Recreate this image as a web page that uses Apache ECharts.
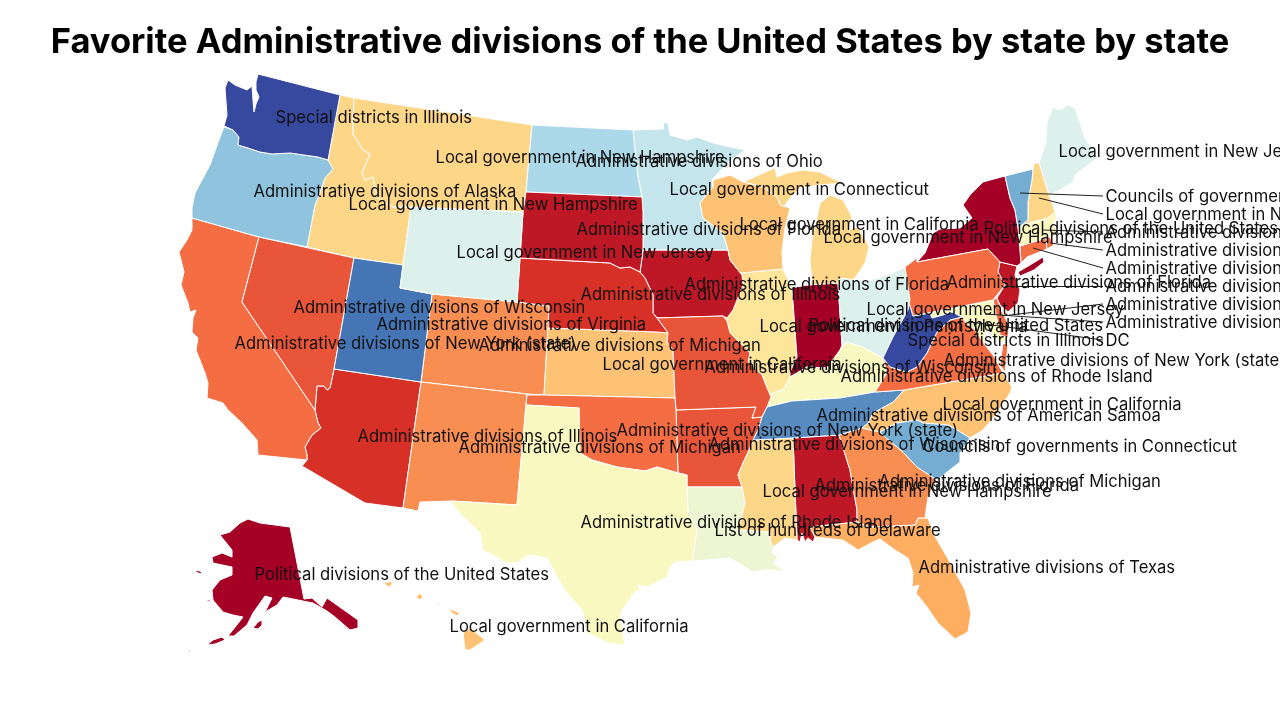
<!DOCTYPE html>
<html>
<head>
<meta charset="utf-8">
<title>Favorite Administrative divisions</title>
<script src="https://cdn.jsdelivr.net/npm/echarts@6/dist/echarts.min.js"></script>
<style>
  html, body { margin: 0; background: #fff; }
  #chart { width: 1280px; height: 720px; }
</style>
</head>
<body>
<div id="chart"></div>
<script>
const states = ['AL','AK','AZ','AR','CA','CO','CT','DE','DC','FL','GA','HI','ID','IL','IN','IA','KS','KY','LA','ME','MD','MA','MI','MN','MS','MO','MT','NE','NV','NH','NJ','NM','NY','NC','ND','OH','OK','OR','PA','RI','SC','SD','TN','TX','UT','VT','VA','WA','WV','WI','WY'];

// position on the red -> yellow -> blue scale, read from each state's fill
const stateValues = [0.5,0,1,1.6,2,2.5,2,2,5,3,2.5,3.4,3.8,4.2,0,0.5,3.4,5,5.4,6,5,5,3.8,6.5,3.8,1.6,3.8,1,1.6,3.8,0.5,2.5,0,3.4,7,6,2,7.5,2,2,8,0.5,8.6,5,9,8,2,9.7,9.7,3.4,6];

const favorites = [
  'Administrative divisions of Florida','Political divisions of the United States','Administrative divisions of Illinois',
  'Administrative divisions of Wisconsin','Administrative divisions of New York (state)','Administrative divisions of Michigan',
  'Administrative divisions of New York (state)','Administrative divisions of Texas','DC','Administrative divisions of Texas',
  'Administrative divisions of Michigan','Local government in California','Local government in New Hampshire',
  'Local government in Pennsylvania','Political divisions of the United States','Administrative divisions of Florida',
  'Local government in California','Administrative divisions of Rhode Island','List of hundreds of Delaware',
  'Local government in New Jersey','Administrative divisions of Florida','Administrative divisions of Illinois',
  'Local government in New Hampshire','Local government in Connecticut','Local government in New Hampshire',
  'Administrative divisions of Wisconsin','Local government in New Hampshire','Administrative divisions of Illinois',
  'Administrative divisions of Wisconsin','Local government in New Hampshire','Administrative divisions of Wisconsin',
  'Administrative divisions of Michigan','Political divisions of the United States','Local government in California',
  'Administrative divisions of Ohio','Local government in New Jersey','Administrative divisions of New York (state)',
  'Administrative divisions of Alaska','Administrative divisions of Florida','Administrative divisions of Michigan',
  'Councils of governments in Connecticut','Administrative divisions of Florida','Administrative divisions of American Samoa',
  'Administrative divisions of Rhode Island','Administrative divisions of Virginia','Councils of governments in Connecticut',
  'Administrative divisions of New York (state)','Special districts in Illinois','Special districts in Illinois',
  'Local government in California','Local government in New Jersey'
];

const titleText = 'Favorite Administrative divisions of the United States by state by state';
const scaleColors = ['#a50026','#d73027','#f46d43','#fdae61','#fee090','#f9f8c0','#dcf0ec','#abd9e9','#74add1','#4575b4','#313695'];

// state outlines in map units, plus where each name is anchored and where a leader starts
const shapes = {
  WA: { at: [275,117], rings: [[[258,74],[340,95],[328,160],[318,157],[290,153],[272,154],[260,152],[248,148],[238,145],[239,137],[233,130],[224,126],[227,115],[225,88],[228,80],[235,85],[247,90],[252,86],[253,100],[254,112],[256,104],[259,97],[256,90],[256,82]]] },
  OR: { at: [253,191], rings: [[[224,127],[233,130],[239,137],[238,145],[248,148],[260,152],[272,154],[290,153],[318,157],[328,160],[333,169],[325,178],[318,198],[315,205],[307,247],[259,237],[192,218],[192,208],[195,193],[210,165],[220,137]]] },
  ID: { at: [348,204], rings: [[[340,95],[354,98],[353,123],[353,134],[363,150],[370,154],[362,173],[365,180],[373,177],[377,197],[393,207],[411,207],[403,265],[354,258],[307,247],[315,205],[318,198],[325,178],[333,169],[328,160]]] },
  MT: { at: [435,157], rings: [[[354,98],[532,125],[526,192],[523,212],[411,207],[393,207],[377,197],[373,177],[365,180],[362,173],[370,154],[363,150],[353,134],[353,123]]] },
  WY: { at: [456,252], rings: [[[411,207],[523,212],[520,258],[517,302],[432,294],[400,288],[403,265]]] },
  UT: { at: [376,324], rings: [[[354,258],[403,265],[400,288],[432,294],[421,382],[334,369]]] },
  NV: { at: [293,307], rings: [[[259,237],[354,258],[334,369],[330,388],[327,390],[324,386],[317,386],[315,410],[242,302]]] },
  CA: { at: [234,343], rings: [[[192,218],[259,237],[242,302],[315,410],[318,423],[321,428],[312,435],[305,447],[307,455],[307,460],[258,455],[257,440],[242,423],[228,410],[223,403],[207,398],[208,383],[205,373],[196,350],[198,338],[192,332],[193,318],[196,310],[190,312],[188,303],[181,285],[184,272],[179,252],[187,240],[192,230]]] },
  AZ: { at: [357,436], rings: [[[334,369],[421,382],[403,508],[365,503],[302,466],[307,460],[307,455],[305,447],[312,435],[321,428],[318,423],[315,410],[317,386],[324,386],[327,390],[330,388]]] },
  NM: { at: [458,447], rings: [[[421,382],[527,394],[526,405],[517,505],[452,501],[420,502],[418,511],[403,508]]] },
  CO: { at: [478,345], rings: [[[432,294],[517,302],[549,306],[548,328],[544,395],[527,394],[421,382]]] },
  KS: { at: [602,364], rings: [[[548,328],[657,332],[668,333],[667,342],[673,350],[675,398],[544,395]]] },
  NE: { at: [580,294], rings: [[[520,258],[610,263],[620,268],[630,267],[640,272],[645,278],[653,295],[653,313],[657,318],[668,333],[657,332],[548,328],[549,306],[517,302]]] },
  SD: { at: [576,229], rings: [[[526,192],[642,197],[643,212],[643,248],[642,258],[640,272],[630,267],[620,268],[610,263],[520,258],[523,212]]] },
  ND: { at: [575,161], rings: [[[532,125],[633,130],[638,177],[642,197],[526,192]]] },
  MN: { at: [669,189], rings: [[[633,130],[663,129],[664,122],[668,123],[670,135],[687,140],[697,137],[713,143],[730,147],[745,150],[727,163],[712,180],[713,187],[700,203],[703,218],[723,233],[728,250],[643,250],[643,212],[642,197],[638,177]]] },
  IA: { at: [684,284], rings: [[[643,250],[728,250],[730,260],[742,275],[743,285],[735,305],[733,310],[727,318],[723,316],[657,318],[653,313],[653,295],[645,278],[640,272],[642,258]]] },
  MO: { at: [704,367], rings: [[[657,318],[723,316],[727,321],[730,333],[750,353],[748,362],[762,375],[767,388],[771,397],[767,407],[762,417],[752,418],[756,407],[676,410],[675,398],[673,350],[667,342],[668,333]]] },
  AR: { at: [708,444], rings: [[[676,410],[756,407],[752,418],[762,417],[758,430],[750,448],[743,463],[738,475],[742,487],[687,487],[687,475],[678,473]]] },
  LA: { at: [714,530], rings: [[[687,487],[742,487],[745,503],[738,530],[770,532],[770,540],[774,547],[772,553],[778,557],[773,563],[785,572],[773,570],[765,570],[753,572],[745,567],[730,558],[707,560],[692,561],[695,543],[697,530],[688,513]]] },
  OK: { at: [616,430], rings: [[[527,395],[544,395],[675,398],[676,410],[678,473],[657,467],[645,471],[617,467],[592,460],[580,453],[579,408],[526,405]]] },
  TX: { at: [580,522], rings: [[[526,405],[579,408],[580,453],[592,460],[617,467],[645,471],[657,467],[678,473],[687,475],[687,487],[688,513],[697,530],[695,543],[692,561],[675,562],[670,567],[667,577],[647,587],[638,585],[640,590],[635,592],[622,610],[620,618],[625,645],[608,643],[587,633],[582,610],[567,593],[557,577],[547,558],[528,555],[517,563],[507,563],[483,550],[480,533],[460,513],[450,501],[517,505]]] },
  MS: { at: [762,491], rings: [[[753,440],[793,438],[795,490],[797,540],[785,538],[773,547],[770,540],[770,532],[738,530],[745,503],[742,487],[738,475],[743,463],[750,448]]] },
  AL: { at: [814,485], rings: [[[793,438],[839,435],[850,470],[857,510],[857,522],[810,527],[815,537],[813,542],[808,538],[805,542],[802,533],[800,542],[797,540],[795,490]]] },
  GA: { at: [878,481], rings: [[[839,435],[862,428],[880,432],[885,437],[903,452],[917,467],[937,480],[928,497],[925,517],[928,518],[918,518],[915,525],[869,527],[857,522],[857,510],[850,470]]] },
  FL: { at: [918,567], rings: [[[810,527],[857,522],[869,527],[915,525],[918,518],[928,518],[933,533],[947,557],[965,590],[971,613],[968,632],[955,639],[938,623],[927,607],[916,593],[919,585],[912,587],[913,573],[908,558],[895,550],[880,539],[873,542],[858,550],[843,540],[815,537]]] },
  SC: { at: [922,446], rings: [[[880,432],[897,423],[917,420],[923,423],[948,425],[957,430],[970,438],[960,453],[960,462],[937,480],[917,467],[903,452],[885,437]]] },
  NC: { at: [942,404], rings: [[[904,390],[1003,373],[1012,387],[1010,393],[997,413],[983,430],[970,438],[957,430],[948,425],[923,423],[917,420],[897,423],[880,432],[862,428],[868,423],[873,413],[893,402]]] },
  TN: { at: [816,415], rings: [[[767,407],[792,401],[840,398],[875,392],[904,390],[893,402],[873,413],[868,423],[862,428],[839,435],[793,438],[753,440],[758,430],[762,417]]] },
  KY: { at: [840,376], rings: [[[771,397],[772,393],[783,390],[790,377],[807,367],[827,368],[840,350],[847,342],[863,347],[883,358],[887,373],[875,392],[840,398],[792,401],[767,407]]] },
  IL: { at: [759,326], rings: [[[741,273],[783,269],[792,288],[797,357],[790,372],[790,377],[783,390],[772,393],[771,397],[767,388],[762,375],[748,362],[750,353],[730,333],[727,321],[723,316],[727,318],[733,310],[735,305],[743,285],[742,275]]] },
  IN: { at: [808,325], rings: [[[792,288],[807,285],[838,283],[842,345],[840,350],[827,368],[807,367],[790,377],[790,372],[797,357]]] },
  OH: { at: [866,309], rings: [[[838,283],[840,278],[863,281],[870,280],[888,275],[905,267],[910,300],[908,310],[893,337],[883,358],[863,347],[847,342],[842,345]]] },
  WI: { at: [739,224], rings: [[[713,180],[730,175],[743,182],[763,187],[777,197],[780,205],[790,208],[785,228],[782,252],[783,269],[741,273],[742,275],[730,260],[728,250],[723,233],[703,218],[700,203],[713,187]]] },
  MI: { at: [823,237], rings: [
    [[812,282],[810,260],[812,240],[820,203],[830,195],[843,200],[852,217],[848,230],[858,227],[869,247],[865,263],[855,278],[848,282],[838,283],[807,285]],
    [[743,182],[770,170],[775,168],[777,177],[787,173],[803,170],[820,172],[842,183],[820,185],[800,188],[790,198],[783,208],[780,205],[777,197],[763,187]]
  ] },
  PA: { at: [946,282], rings: [[[905,267],[917,258],[917,262],[988,249],[1000,262],[998,272],[1005,285],[997,295],[993,300],[913,316],[909,303],[910,300]]] },
  WV: { at: [907,340], rings: [[[909,303],[913,316],[930,313],[932,318],[943,315],[952,312],[962,317],[950,320],[937,332],[927,353],[917,367],[907,372],[890,367],[883,358],[893,337],[908,310]]] },
  VA: { at: [943,360], rings: [
    [[875,392],[887,373],[883,358],[890,367],[907,372],[917,367],[927,353],[937,332],[950,320],[962,317],[965,322],[975,330],[985,345],[993,355],[1003,373],[904,390]],
    [[1003,343],[1008,345],[1005,372],[1000,365]]
  ] },
  MD: { at: [1105,322], from: [985,314], rings: [[[930,313],[993,300],[1000,335],[1008,338],[1003,343],[993,338],[990,325],[985,335],[985,345],[975,330],[965,322],[962,317],[952,312],[943,315],[932,318]]] },
  DE: { at: [1105,304], from: [1002,316], rings: [[[993,300],[997,298],[1002,312],[1009,325],[1008,338],[1000,335]]] },
  DC: { at: [1105,340], from: [970,322], rings: [[[966,321],[970,320],[971,325],[967,325]]] },
  NJ: { at: [1105,286], from: [1005,286], rings: [[[1000,262],[1017,266],[1015,275],[1020,290],[1018,303],[1008,312],[1000,305],[997,298],[1005,285],[998,272]]] },
  NY: { at: [983,228], rings: [
    [[917,262],[925,253],[933,233],[940,229],[960,228],[972,218],[963,205],[970,195],[983,182],[1005,176],[1010,198],[1015,210],[1018,228],[1021,263],[1017,266],[1000,262],[988,249]],
    [[1018,272],[1030,265],[1043,257],[1044,262],[1034,270],[1020,276]]
  ] },
  CT: { at: [1105,268], from: [1033,248], rings: [[[1020,246],[1046,238],[1047,249],[1027,257],[1021,263]]] },
  RI: { at: [1105,250], from: [1050,243], rings: [[[1046,238],[1050,237],[1054,245],[1047,249]]] },
  MA: { at: [1105,232], from: [1043,230], rings: [[[1018,228],[1028,223],[1048,218],[1055,212],[1057,218],[1053,224],[1058,232],[1050,237],[1046,238],[1020,246]]] },
  VT: { at: [1105,196], from: [1020,193], rings: [[[1005,176],[1033,169],[1032,180],[1028,202],[1028,220],[1018,228],[1015,210],[1010,198]]] },
  NH: { at: [1105,214], from: [1039,198], rings: [[[1033,169],[1034,163],[1039,163],[1049,195],[1055,212],[1048,218],[1028,223],[1018,228],[1028,220],[1028,202],[1032,180]]] },
  ME: { at: [1058,151], rings: [[[1039,163],[1046,142],[1047,122],[1053,107],[1060,110],[1068,105],[1075,108],[1085,138],[1097,158],[1075,175],[1073,182],[1060,190],[1049,195]]] },
  AK: { at: [254,574], rings: [
    [[248,519],[260,523],[290,527],[304,599],[312,598],[322,607],[327,598],[358,620],[358,628],[350,630],[335,617],[327,611],[313,603],[283,597],[277,605],[265,612],[272,598],[265,596],[253,613],[247,625],[234,636],[228,636],[236,626],[243,617],[233,615],[223,612],[213,600],[212,590],[220,580],[232,575],[232,567],[213,563],[212,557],[222,553],[232,557],[232,550],[220,535],[230,532],[240,523]],
    [[253,628],[258,622],[262,620],[262,625],[258,629]],
    [[207,645],[213,640],[222,637],[225,640],[215,644]],
    [[194,570],[200,571],[203,574],[198,573]],
    [[205,600],[210,600],[210,602]],
    [[187,651],[191,650],[190,652]],
    [[196,648],[198,649],[197,650]],
    [[104,622],[106,623],[105,624]]
  ] },
  HI: { at: [449,626], rings: [
    [[384,583],[392,581],[392,585],[388,587]],
    [[416,597],[420,593],[423,597],[420,600]],
    [[436,603],[440,603],[438,605]],
    [[448,609],[453,610],[460,613],[457,616],[452,613]],
    [[463,633],[470,628],[485,640],[470,650],[465,650]]
  ] }
};

const usMap = {
  type: 'FeatureCollection',
  features: states.map(name => ({
    type: 'Feature',
    properties: { name: name },
    geometry: {
      type: 'MultiPolygon',
      coordinates: shapes[name].rings.map(ring => [ring.concat([ring[0]])])
    }
  }))
};
echarts.registerMap('us', usMap);

const myChart = echarts.init(document.getElementById('chart'));
const leaderEnd = 1103;

const option = {
  backgroundColor: '#ffffff',
  animation: false,
  title: {
    text: titleText,
    left: 'center',
    top: 20,
    textStyle: { fontFamily: 'Inter', fontWeight: 'bold', fontSize: 34.5, color: '#000' }
  },
  visualMap: {
    show: false,
    seriesIndex: 0,
    min: 0,
    max: 10,
    inRange: { color: scaleColors }
  },
  geo: {
    map: 'us',
    silent: true,
    roam: false,
    projection: { project: p => p, unproject: p => p },
    boundingCoords: [[0, 0], [1280, 720]],
    layoutCenter: ['50%', '50%'],
    layoutSize: 1280,
    itemStyle: { borderColor: '#ffffff', borderWidth: 1, areaColor: '#eeeeee' },
    label: { show: false }
  },
  series: [
    {
      type: 'map',
      geoIndex: 0,
      data: states.map((name, i) => ({ name: name, value: stateValues[i] }))
    },
    {
      type: 'lines',
      coordinateSystem: 'geo',
      silent: true,
      lineStyle: { color: '#222222', width: 1, opacity: 1 },
      data: states.filter(s => shapes[s].from).map(s => ({
        coords: [shapes[s].from, [leaderEnd, shapes[s].at[1]]]
      }))
    },
    {
      type: 'scatter',
      coordinateSystem: 'geo',
      silent: true,
      symbolSize: 1,
      itemStyle: { color: 'transparent' },
      label: {
        show: true,
        position: 'right',
        distance: 0,
        offset: [0, 1],
        formatter: '{b}',
        fontFamily: 'Inter',
        fontSize: 16.6,
        color: '#111111',
        opacity: 1
      },
      data: states.map((s, i) => ({ name: favorites[i], value: shapes[s].at }))
    }
  ]
};

myChart.setOption(option);
</script>
</body>
</html>
